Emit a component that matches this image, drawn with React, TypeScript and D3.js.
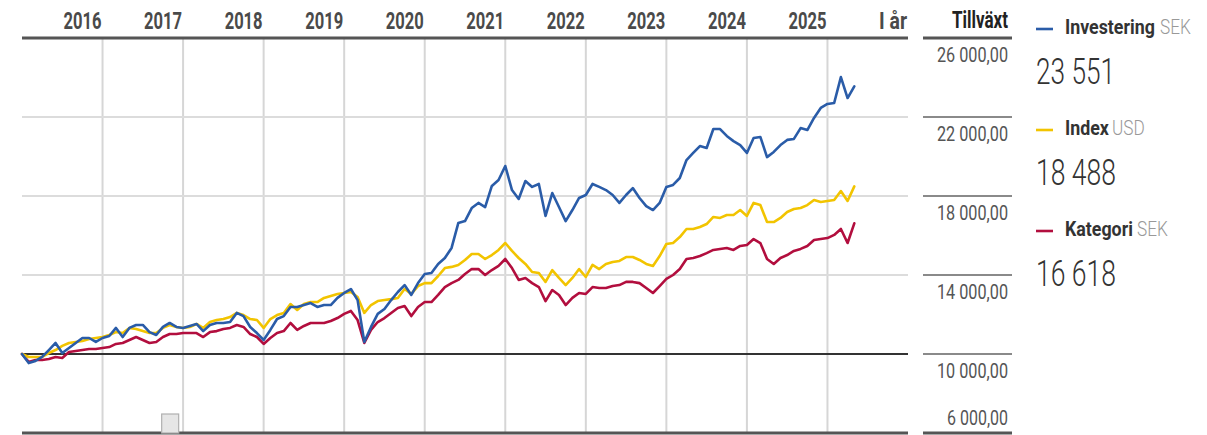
import React from 'react';
import * as d3 from 'd3';

// Monthly values, Jan 2016 .. May 2026 (start = 10 000)
const investering = [
  10000, 9540, 9650, 9850, 10200, 10560, 10050, 10300, 10560, 10810, 10810, 10610,
  10810, 10910, 11320, 10860, 11320, 11470, 11470, 11110, 10960, 11370, 11570, 11370,
  11320, 11420, 11520, 11160, 11470, 11570, 11570, 11620, 12080, 11920, 11370, 11060,
  10710, 11220, 11770, 11920, 12380, 12380, 12480, 12580, 12380, 12480, 12480, 12840,
  13090, 13290, 12730, 10610, 11370, 12030, 12280, 12730, 13140, 13490, 12990, 13590,
  14050, 14100, 14560, 14860, 15370, 16630, 16730, 17390, 17650, 17440, 18510, 18810,
  19520, 18300, 17850, 18760, 18460, 18610, 16990, 18150, 17440, 16730, 17290, 17900,
  18050, 18610, 18460, 18300, 18050, 17650, 18050, 18400, 17900, 17490, 17290, 17650,
  18460, 18560, 18910, 19820, 20180, 20530, 20430, 21390, 21390, 21040, 20780, 20580,
  20180, 20940, 20990, 19970, 20230, 20580, 20840, 20890, 21440, 21340, 21950, 22460,
  22660, 22710, 24020, 22960, 23551,
];

const indexSeries = [
  10000, 9850, 9850, 9850, 10050, 10200, 10410, 10560, 10610, 10660, 10760, 10810,
  10860, 10960, 11110, 11060, 11320, 11270, 11160, 11060, 11060, 11320, 11470, 11370,
  11320, 11370, 11520, 11320, 11620, 11720, 11770, 11870, 12080, 11970, 11770, 11720,
  11320, 11770, 11970, 12080, 12530, 12230, 12530, 12630, 12630, 12840, 12940, 13040,
  13090, 13140, 12890, 12080, 12480, 12680, 12730, 12780, 12840, 13290, 13040, 13440,
  13590, 13590, 13950, 14350, 14410, 14510, 14760, 15060, 15060, 14810, 15010, 15270,
  15620, 15220, 14860, 14560, 14150, 14100, 13650, 14250, 13850, 13490, 13850, 14300,
  13900, 14510, 14300, 14560, 14660, 14710, 14910, 14910, 14760, 14560, 14460, 14960,
  15570, 15620, 15920, 16330, 16330, 16430, 16580, 16940, 16890, 17040, 17040, 17290,
  16990, 17650, 17540, 16680, 16680, 16890, 17190, 17340, 17390, 17540, 17800, 17700,
  17750, 17800, 18250, 17750, 18488,
];

const kategori = [
  10000, 9600, 9700, 9700, 9750, 9850, 9800, 10100, 10150, 10200, 10250, 10250,
  10300, 10350, 10510, 10560, 10710, 10860, 10710, 10560, 10610, 10860, 11010, 11010,
  11060, 11060, 11060, 10860, 11110, 11160, 11270, 11320, 11470, 11370, 11010, 10860,
  10510, 10810, 11060, 11160, 11570, 11220, 11420, 11570, 11570, 11570, 11670, 11820,
  12030, 12180, 11720, 10560, 11220, 11620, 11820, 12080, 12330, 12430, 11920, 12380,
  12630, 12630, 12990, 13390, 13590, 13750, 14050, 14300, 14300, 14000, 14250, 14460,
  14810, 14350, 13750, 13850, 13590, 13390, 12680, 13240, 12990, 12480, 12840, 13090,
  13040, 13390, 13340, 13340, 13440, 13490, 13650, 13650, 13590, 13340, 13090, 13440,
  13800, 14000, 14300, 14810, 14860, 14960, 15110, 15270, 15320, 15370, 15270, 15470,
  15520, 15820, 15620, 14810, 14560, 14860, 15010, 15220, 15320, 15470, 15770, 15820,
  15870, 16030, 16330, 15620, 16618,
];

const yearLabels = ['2016', '2017', '2018', '2019', '2020', '2021', '2022', '2023', '2024', '2025', 'I år'];
const yTicks = [26000, 22000, 18000, 14000, 10000, 6000];
const tickLabels = ['26 000,00', '22 000,00', '18 000,00', '14 000,00', '10 000,00', '6 000,00'];
const legendNames = ['Investering', 'Index', 'Kategori'];
const legendCurrencies = ['SEK', 'USD', 'SEK'];
const legendValues = ['23 551', '18 488', '16 618'];
const markerMonth = 22;

const COLORS = ['#2a5ca8', '#f2c400', '#b20e3e'];
const FONT = 'Roboto, "Liberation Sans", sans-serif';

export default function App() {
  const W = 1207;
  const H = 435;
  const x = d3.scaleLinear().domain([0, 132]).range([22, 908]);
  const y = d3.scaleLinear().domain([6000, 26000]).range([433, 38]);
  const line = d3
    .line<number>()
    .x((_, i) => x(i))
    .y((d) => y(d));

  const series = [investering, indexSeries, kategori];
  const drawOrder = [2, 1, 0];

  const curX = [1160, 1112, 1137];
  const yearW = (l: string) => (l === 'I år' ? 28 : 38);

  return (
    <svg
      width={W}
      height={H}
      style={{ position: 'absolute', left: 0, top: 0, background: '#fff' }}
      fontFamily={FONT}
    >
      {/* vertical gridlines */}
      {d3.range(1, 11).map((k) => (
        <line key={'v' + k} x1={x(k * 12)} x2={x(k * 12)} y1={y(26000)} y2={y(6000)} stroke="#d6d6d6" strokeWidth={2} />
      ))}
      {/* horizontal lines in plot */}
      {yTicks.map((v, i) => {
        const isEdge = i === 0 || i === yTicks.length - 1;
        const isBase = v === 10000;
        return (
          <line
            key={'h' + v}
            x1={x(0)}
            x2={x(132)}
            y1={y(v)}
            y2={y(v)}
            stroke={isEdge ? '#555' : isBase ? '#333' : '#dcdcdc'}
            strokeWidth={isEdge ? 3 : 2}
          />
        );
      })}
      {/* right column lines */}
      {yTicks.map((v, i) => {
        const isEdge = i === 0 || i === yTicks.length - 1;
        return (
          <line
            key={'r' + v}
            x1={923}
            x2={1012}
            y1={y(v)}
            y2={y(v)}
            stroke={isEdge ? '#555' : '#8a8a8a'}
            strokeWidth={isEdge ? 3 : 2}
          />
        );
      })}
      {/* small marker */}
      <rect x={x(markerMonth) - 8} y={y(6000) - 19} width={17} height={19} fill="#e6e6e6" stroke="#b0b0b0" strokeWidth={1.2} />

      {/* series */}
      {drawOrder.map((si) => (
        <path
          key={'s' + si}
          d={line(series[si]) || ''}
          fill="none"
          stroke={COLORS[si]}
          strokeWidth={2.6}
          strokeLinejoin="round"
          strokeLinecap="round"
        />
      ))}

      {/* year labels */}
      {yearLabels.map((l, k) => (
        <text
          key={'y' + l}
          x={x((k + 1) * 12) - 1}
          y={29}
          textAnchor="end"
          fontSize={23}
          fontWeight={700}
          fill="#4a4a4a"
          textLength={yearW(l)}
          lengthAdjust="spacingAndGlyphs"
        >
          {l}
        </text>
      ))}
      <text x={1008} y={28} textAnchor="end" fontSize={23} fontWeight={700} fill="#222" textLength={56} lengthAdjust="spacingAndGlyphs">
        Tillväxt
      </text>

      {/* tick labels */}
      {yTicks.map((v, i) => (
        <text
          key={'t' + v}
          x={1008}
          y={i === yTicks.length - 1 ? y(v) - 8 : y(v) + 24}
          textAnchor="end"
          fontSize={21}
          fontWeight={400}
          fill="#555"
          textLength={i === yTicks.length - 1 ? 61 : 71}
          lengthAdjust="spacingAndGlyphs"
        >
          {tickLabels[i]}
        </text>
      ))}

      {/* legend */}
      {legendNames.map((n, i) => {
        const base = 34 + i * 101;
        return (
          <g key={'l' + n}>
            <line x1={1036} x2={1053} y1={base - 5} y2={base - 5} stroke={COLORS[i]} strokeWidth={2.6} />
            <g transform={`translate(1065,${base}) scale(0.89,1)`}>
              <text x={0} y={0} fontSize={20} fontWeight={700} fill="#333">
                {n}
              </text>
            </g>
            <g transform={`translate(${curX[i]},${base}) scale(0.86,1)`}>
              <text x={0} y={0} fontSize={20} fontWeight={300} fill="#999">
                {legendCurrencies[i]}
              </text>
            </g>
            <text x={1036} y={base + 50} fontSize={37} fontWeight={300} fill="#333" textLength={i === 0 ? 79 : 80} lengthAdjust="spacingAndGlyphs">
              {legendValues[i]}
            </text>
          </g>
        );
      })}
    </svg>
  );
}
